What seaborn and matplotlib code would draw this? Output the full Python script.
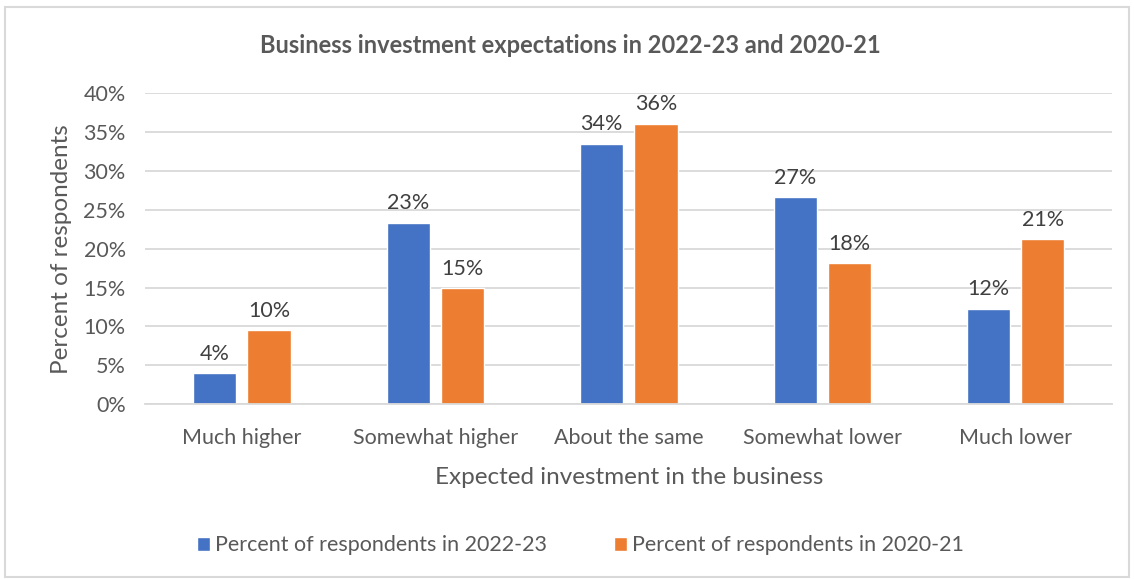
import matplotlib
matplotlib.use("Agg")
import matplotlib.pyplot as plt
from matplotlib.patches import Rectangle
from matplotlib.ticker import FuncFormatter
import seaborn as sns
import pandas as pd

categories = ["Much higher", "Somewhat higher", "About the same", "Somewhat lower", "Much lower"]
series_names = ["Percent of respondents in 2022-23", "Percent of respondents in 2020-21"]
values_2022_23 = [3.95, 23.3, 33.5, 26.6, 12.3]
values_2020_21 = [9.5, 14.9, 36.1, 18.1, 21.2]
y_ticks = [0, 5, 10, 15, 20, 25, 30, 35, 40]

colors = ["#4472C4", "#ED7D31"]
text_color = "#595959"
grid_color = "#D9D9D9"

df = pd.DataFrame({
    "category": categories * 2,
    "series": [series_names[0]] * len(categories) + [series_names[1]] * len(categories),
    "value": values_2022_23 + values_2020_21,
})

sns.set_theme(style="white")
plt.rcParams["font.family"] = ["Lato", "DejaVu Sans"]

fig = plt.figure(figsize=(11.34, 5.79), dpi=100)
ax = fig.add_axes([0.128, 0.302, 0.853, 0.537])

sns.barplot(data=df, x="category", y="value", hue="series", order=categories,
            hue_order=series_names, palette=colors, width=0.56, gap=0.2,
            saturation=1, ax=ax, legend=True)

for cont in ax.containers:
    ax.bar_label(cont, fmt="{:.0f}%", padding=7, fontsize=15.5, color="#404040")

ax.set_ylim(0, 40)
ax.set_yticks(y_ticks)
ax.yaxis.set_major_formatter(FuncFormatter(lambda v, p: f"{v:.0f}%"))
ax.set_xlim(-0.5, len(categories) - 0.5)
ax.grid(axis="y", color=grid_color, linewidth=1.3)
ax.set_axisbelow(True)
for s in ["top", "right", "left"]:
    ax.spines[s].set_visible(False)
ax.spines["bottom"].set_color(grid_color)
ax.spines["bottom"].set_linewidth(1.3)
ax.tick_params(axis="both", length=0, labelsize=15.5, labelcolor=text_color)
ax.tick_params(axis="x", pad=17)
ax.tick_params(axis="y", pad=14)

ax.set_xlabel("Expected investment in the business", fontsize=17.5, color=text_color, labelpad=14)
ax.set_ylabel("Percent of respondents", fontsize=17.5, color=text_color, labelpad=8)

fig.text(0.503, 0.922, "Business investment expectations in 2022-23 and 2020-21",
         ha="center", va="center", fontsize=17, fontweight="bold", color=text_color)

handles, labels = ax.get_legend_handles_labels()
ax.legend_.remove()
fig.legend(handles, labels, loc="center", bbox_to_anchor=(0.512, 0.058), ncol=2,
           frameon=False, fontsize=15.5, labelcolor=text_color, handlelength=0.6,
           handleheight=0.6, handletextpad=0.25, columnspacing=3.1)

fig.patches.append(Rectangle((0.004, 0.004), 0.992, 0.984, transform=fig.transFigure,
                             fill=False, edgecolor=grid_color, linewidth=1.5))

fig.savefig("out.png", dpi=100, facecolor="white")
